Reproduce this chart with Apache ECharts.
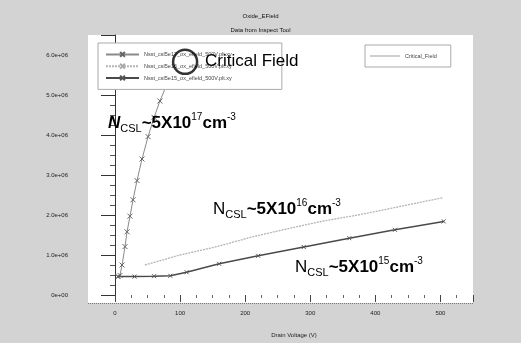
<!DOCTYPE html>
<html>
<head>
<meta charset="utf-8">
<script src="https://cdn.jsdelivr.net/npm/echarts@6/dist/echarts.min.js"></script>
<style>
  html, body { margin: 0; padding: 0; background: #d3d3d3; }
  #chart { width: 521px; height: 343px; }
</style>
</head>
<body>
<div id="chart"></div>
<script>
// Oxide field (V/cm) versus drain voltage (V) for three CSL doping levels
const seriesNames = [
  'Nsst_csl5e17_ox_efield_500V.plt.xy',
  'Nsst_csl5e16_ox_efield_500V.plt.xy',
  'Nsst_csl5e15_ox_efield_500V.plt.xy'
];
const csl5e17V = [4.6, 7.7, 10.8, 15.4, 18.5, 23, 27.7, 33.8, 41.5, 50.8, 60, 69, 78.5, 87.7, 97, 107.7];
const csl5e17E = [0.46e6, 0.49e6, 0.75e6, 1.21e6, 1.58e6, 1.97e6, 2.38e6, 2.86e6, 3.40e6, 3.96e6, 4.44e6, 4.85e6, 5.22e6, 5.51e6, 5.70e6, 5.83e6];
const csl5e16V = [46, 100, 157, 210, 269, 320, 377, 440, 503];
const csl5e16E = [0.75e6, 1.00e6, 1.21e6, 1.45e6, 1.67e6, 1.85e6, 2.01e6, 2.22e6, 2.43e6];
const csl5e15V = [4.6, 30, 60, 85, 110, 160, 220, 290, 360, 430, 505];
const csl5e15E = [0.46e6, 0.46e6, 0.47e6, 0.48e6, 0.57e6, 0.78e6, 0.98e6, 1.20e6, 1.42e6, 1.63e6, 1.84e6];
// Point where the 5e17 curve meets the critical field
const criticalV = [107.7];
const criticalE = [5.83e6];
// Axis tick labels
const yTickLabels = ['0e+00', '1.0e+06', '2.0e+06', '3.0e+06', '4.0e+06', '5.0e+06', '6.0e+06'];

const pairs = (xs, ys) => xs.map((x, i) => [x, ys[i]]);
const crossSymbol = 'path://M0,0L10,10M10,0L0,10';

const chart = echarts.init(document.getElementById('chart'), null, { renderer: 'canvas' });

const FONT = 'Liberation Sans, Arial, sans-serif';
const richBase = {
  n: { fontSize: 17, fontFamily: FONT, color: '#000' },
  ni: { fontSize: 17, fontFamily: FONT, color: '#000', fontStyle: 'italic', fontWeight: 'bold' },
  sub: { fontSize: 11, fontFamily: FONT, color: '#000', verticalAlign: 'bottom', lineHeight: 22 },
  b: { fontSize: 17, fontFamily: FONT, color: '#000', fontWeight: 'bold' },
  sup: { fontSize: 10, fontFamily: FONT, color: '#000', verticalAlign: 'top', lineHeight: 22 }
};
const dopingLabel = (nStyle, exp) =>
  `{${nStyle}|N}{sub|CSL}{b|~5X10}{sup|${exp}}{b|cm}{sup|-3}`;

chart.setOption({
  animation: false,
  backgroundColor: '#d3d3d3',
  title: {
    text: 'Oxide_EField',
    subtext: 'Data from Inspect Tool',
    left: 'center',
    top: 8,
    itemGap: 8,
    textStyle: { fontSize: 6, fontWeight: 'normal', color: '#111', fontFamily: FONT },
    subtextStyle: { fontSize: 6, color: '#111', fontFamily: FONT }
  },
  graphic: [
    { type: 'rect', z: -10, shape: { x: 88, y: 35, width: 385, height: 268 }, style: { fill: '#ffffff' } },
    { type: 'line', z: 1, shape: { x1: 88, y1: 303.5, x2: 473, y2: 303.5 }, style: { stroke: '#777', lineWidth: 1, lineDash: [1, 1] } },
    { type: 'text', z: 20, left: 205, top: 53, style: { text: 'Critical Field', font: '17px ' + FONT, fill: '#000' } },
    { type: 'text', z: 20, left: 108, top: 112, style: { text: dopingLabel('ni', '17'), rich: richBase } },
    { type: 'text', z: 20, left: 213, top: 198, style: { text: dopingLabel('n', '16'), rich: richBase } },
    { type: 'text', z: 20, left: 295, top: 256, style: { text: dopingLabel('n', '15'), rich: richBase } }
  ],
  grid: { left: 115, right: 48, top: 35, bottom: 40, containLabel: false },
  legend: [
    {
      data: seriesNames,
      orient: 'vertical',
      left: 98, top: 43,
      padding: [8, 50, 8, 7],
      itemGap: 5,
      itemWidth: 33, itemHeight: 6,
      borderColor: '#aaa', borderWidth: 1,
      backgroundColor: '#fff',
      textStyle: { fontSize: 5.5, color: '#444', fontFamily: FONT }
    },
    {
      data: [{ name: 'Critical_Field', icon: 'path://M0,2.5h30v1h-30z', itemStyle: { color: '#888', borderWidth: 0 } }],
      left: 365, top: 45,
      padding: [8, 14, 8, 5],
      itemWidth: 30, itemHeight: 6,
      borderColor: '#aaa', borderWidth: 1,
      backgroundColor: '#fff',
      textStyle: { fontSize: 5.5, color: '#444', fontFamily: FONT }
    }
  ],
  xAxis: {
    type: 'value',
    min: 0, max: 550, interval: 100,
    name: 'Drain Voltage (V)',
    nameLocation: 'middle', nameGap: 37,
    nameTextStyle: { fontSize: 6, color: '#222', fontFamily: FONT },
    axisLine: { show: false },
    axisTick: { show: true, length: 7, lineStyle: { color: '#444' } },
    minorTick: { show: true, splitNumber: 4, length: 3, lineStyle: { color: '#666' } },
    axisLabel: { fontSize: 6, color: '#222', margin: 15, fontFamily: FONT, showMaxLabel: false },
    splitLine: { show: false }
  },
  yAxis: {
    type: 'value',
    min: 0, max: 6.5e6, interval: 1e6,
    offset: 27,
    axisLine: { show: true, lineStyle: { color: '#333', width: 1 } },
    axisTick: { show: true, length: 14, lineStyle: { color: '#333' } },
    minorTick: { show: true, splitNumber: 4, length: 5, lineStyle: { color: '#555' } },
    axisLabel: {
      fontSize: 6, color: '#222', margin: 20, fontFamily: FONT, showMaxLabel: false,
      formatter: v => yTickLabels[Math.round(v / 1e6)] ?? ''
    },
    splitLine: { show: false }
  },
  series: [
    {
      name: seriesNames[0], type: 'line', data: pairs(csl5e17V, csl5e17E),
      symbol: crossSymbol, symbolSize: 5, showSymbol: true,
      lineStyle: { color: '#8a8a8a', width: 1 },
      itemStyle: { color: 'transparent', borderColor: '#666', borderWidth: 1 },
      z: 3
    },
    {
      name: seriesNames[1], type: 'line', data: pairs(csl5e16V, csl5e16E),
      symbol: crossSymbol, symbolSize: 3, showSymbol: false,
      lineStyle: { color: '#b4b4b4', width: 1.3, type: [2, 1] },
      itemStyle: { color: 'transparent', borderColor: '#aaa', borderWidth: 1 },
      z: 2
    },
    {
      name: seriesNames[2], type: 'line', data: pairs(csl5e15V, csl5e15E),
      symbol: crossSymbol, symbolSize: 4, showSymbol: true,
      lineStyle: { color: '#4a4a4a', width: 1.5 },
      itemStyle: { color: 'transparent', borderColor: '#555', borderWidth: 1 },
      z: 3
    },
    {
      name: 'Critical_Field', type: 'scatter', data: pairs(criticalV, criticalE),
      symbol: 'circle', symbolSize: 24,
      itemStyle: { color: 'transparent', borderColor: '#000', borderWidth: 2.5 },
      z: 30
    }
  ]
});
</script>
</body>
</html>
